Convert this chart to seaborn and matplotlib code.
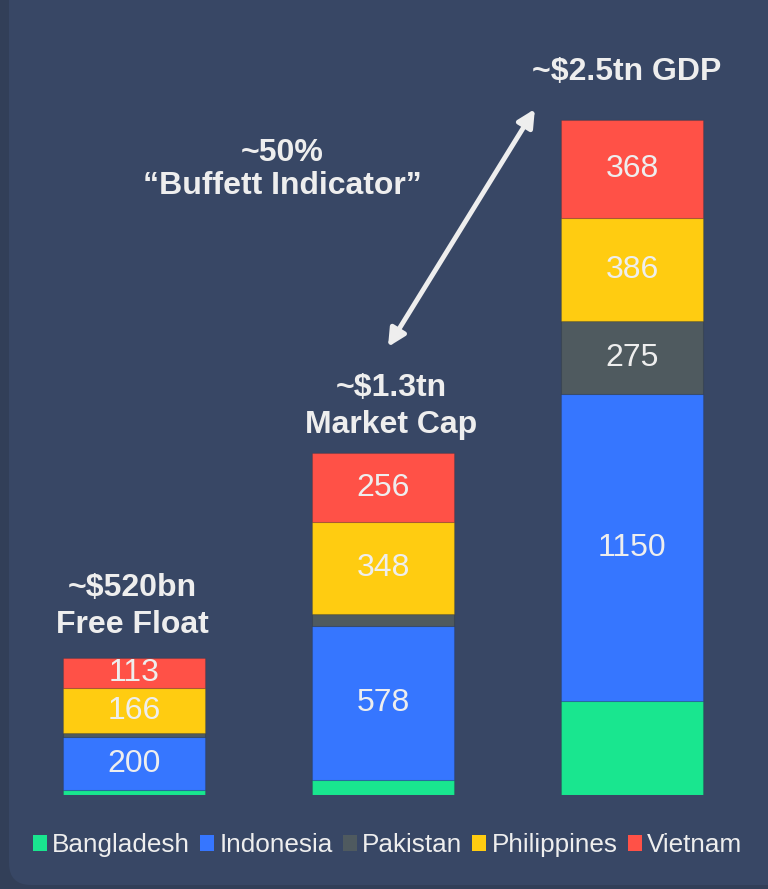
import numpy as np
import matplotlib.pyplot as plt
from matplotlib.patches import FancyBboxPatch, Patch
import seaborn as sns

# data (US$ bn)
stages = ['Free Float', 'Market Cap', 'GDP']
headers = ['~$520bn\nFree Float', '~$1.3tn\nMarket Cap', '~$2.5tn GDP']
countries = ['Bangladesh', 'Indonesia', 'Pakistan', 'Philippines', 'Vietnam']
bangladesh = [18, 56, 354]
indonesia = [200, 578, 1150]
pakistan = [16, 44, 275]
philippines = [166, 348, 386]
vietnam = [113, 256, 368]
series = [bangladesh, indonesia, pakistan, philippines, vietnam]
colors = ['#19e68f', '#3676ff', '#4f5a5f', '#ffcc11', '#ff5147']

BG = '#384765'
OUTER = '#323f58'
TXT = '#eeeeee'

sns.set_theme(style='white')
plt.rcParams['font.family'] = ['Liberation Sans', 'DejaVu Sans']

fig = plt.figure(figsize=(7.68, 8.89), dpi=100, facecolor=OUTER)

# rounded panel behind the chart
panel = FancyBboxPatch((0.09, 0.04), 9.0, 10.0, boxstyle='round,pad=0,rounding_size=0.22',
                       transform=fig.dpi_scale_trans, facecolor=BG, edgecolor='none', zorder=-1)
fig.add_artist(panel)

ax = fig.add_axes([9.5 / 768, 94 / 889, 747 / 768, 795 / 889])
ax.set_facecolor('none')

bottom = np.zeros(len(stages))
for name, vals, c in zip(countries, series, colors):
    sns.barplot(x=stages, y=vals, bottom=bottom, color=c, width=0.57, saturation=1,
                errorbar=None, edgecolor=(0, 0, 0, 0.12), linewidth=0.8, ax=ax)
    for i, v in enumerate(vals):
        if name != 'Bangladesh' and v >= 100:
            ax.text(i, bottom[i] + v / 2, str(v), ha='center', va='center',
                    fontsize=23, color=TXT)
    bottom += np.array(vals)

ax.set_xlim(-0.5, 2.5)
ax.set_ylim(0, 795 / 0.2664)
ax.axis('off')

# headers above each bar
offsets = [(-1, 37), (6, 34), (-4, 34.5)]
for i, (h, off) in enumerate(zip(headers, offsets)):
    ax.annotate(h, xy=(i, bottom[i]), xytext=off, textcoords='offset points',
                ha='center', va='center', fontsize=23, fontweight='bold',
                color=TXT, linespacing=1.3)

# Buffett indicator arrow between market cap and GDP
ax.annotate('', xy=(1.61, bottom[2] + 42), xytext=(1.02, bottom[1] + 400),
            arrowprops=dict(arrowstyle='<|-|>', color=TXT, lw=3.5,
                            mutation_scale=26, shrinkA=0, shrinkB=0))
ax.text(0.596, bottom[1] + 1066, '~50%\n\u201cBuffett Indicator\u201d', ha='center', va='center',
        fontsize=23, fontweight='bold', color=TXT, linespacing=1.12)

handles = [Patch(facecolor=c, edgecolor='none') for c in colors]
fig.legend(handles, countries, loc='center', bbox_to_anchor=(387.5 / 768, 1 - 845 / 889),
           ncol=5, frameon=False, fontsize=18.8, handlelength=0.54, handleheight=0.55,
           handletextpad=0.2, columnspacing=0.38, labelcolor=TXT, borderpad=0, borderaxespad=0)

fig.savefig('out.png', dpi=100, facecolor=OUTER)
